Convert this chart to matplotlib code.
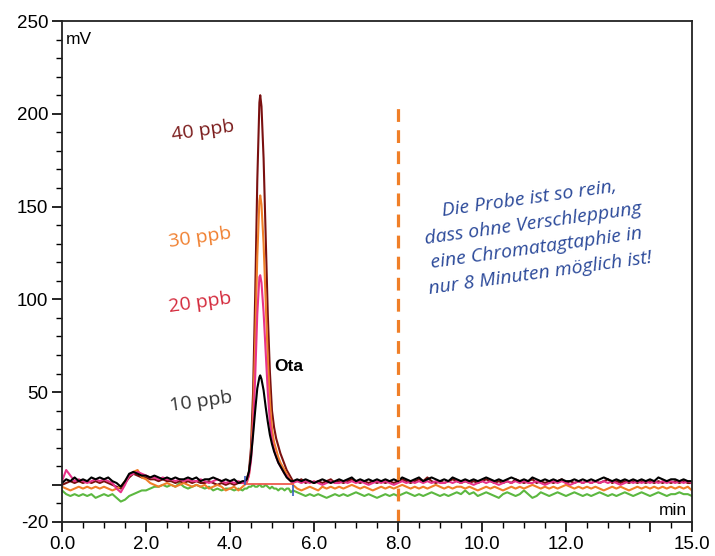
import numpy as np
import matplotlib
matplotlib.use("Agg")
import matplotlib.pyplot as plt
from matplotlib.ticker import MultipleLocator

# time grids (min)
t_pre = np.round(np.arange(0.0, 4.31, 0.1), 2)
t_peak = [4.35, 4.40, 4.45, 4.50, 4.55, 4.60, 4.65, 4.70, 4.72, 4.75, 4.80, 4.85, 4.90,
          4.95, 5.00, 5.05, 5.10, 5.15, 5.20, 5.25, 5.30, 5.35, 5.40, 5.45, 5.50]
t_post = np.round(np.arange(5.6, 15.01, 0.1), 2)

# signals (mV)
black_pre = [1, 3, 2, 4, 2, 3, 2, 4, 3, 4, 3, 4, 2, 1, -1, 2, 6, 7, 6, 5, 5, 4, 5, 4, 3, 4,
             3, 4, 3, 3, 4, 3, 4, 2, 3, 3, 4, 3, 2, 3, 2, 3, 1, 2]
black_peak = [2, 3, 7, 15, 27, 40, 52, 58, 59, 57, 51, 42, 34, 27, 22, 18, 15, 12, 10, 8,
              6, 4, 3, 2, 2]
black_post = [3, 2, 3, 2, 1, 2, 3, 2, 1, 2,
              3, 2, 3, 4, 2, 3, 2, 3, 2, 3,
              2, 3, 2, 3, 2, 4, 3, 2, 3, 4,
              2, 3, 4, 3, 2, 3, 2, 4, 3, 2,
              3, 2, 3, 2, 3, 4, 3, 2, 3, 2,
              3, 4, 3, 2, 3, 2, 4, 3, 2, 3,
              2, 3, 2, 3, 2, 2, 3, 2, 3, 2,
              3, 2, 3, 4, 3, 2, 3, 2, 3, 2,
              3, 2, 3, 2, 3, 2, 4, 3, 2, 3,
              3, 2, 3, 2, 2]

pink_pre = [2, 8, 5, 2, 3, 2, 1, 2, 3, 2, 3, 2, 1, -2, -4, 0, 5, 6, 7, 6, 5, 4, 4, 3, 4, 3,
            3, 2, 3, 2, 3, 2, 2, 3, 2, 1, 2, 3, 2, 1, 2, 1, 2, 1]
pink_peak = [1, 2, 5, 13, 30, 58, 92, 112, 113, 109, 93, 71, 50, 34, 24, 19, 15, 12, 10, 8,
             6, 5, 3, 2, 1]
pink_post = [2, 1, 2, 1, 2, 1, 0, 1, 2, 1,
             1, 2, 1, 2, 1, 2, 1, 0, 1, 2,
             1, 2, 1, 0, 1, 2, 1, 2, 1, 2,
             1, 2, 1, 2, 1, 1, 2, 1, 2, 1,
             2, 1, 0, 1, 2, 1, 2, 1, 0, 1,
             2, 1, 2, 1, 2, 1, 1, 2, 1, 0,
             1, 2, 1, 2, 1, 0, 1, 2, 1, 2,
             1, 2, 1, 2, 1, 2, 1, 0, 1, 2,
             1, 2, 1, 2, 1, 2, 1, 2, 1, 2,
             1, 2, 1, 2, 1]

red_pre = [0, 1, 2, 1, 2, 1, 2, 1, 2, 1, 2, 1, 0, -1, -2, 1, 4, 6, 5, 4, 4, 3, 3, 2, 3, 2,
           2, 1, 2, 1, 2, 1, 2, 1, 1, 2, 1, 0, 1, 0, 1, 0, 1, 1]
red_peak = [2, 3, 7, 20, 50, 102, 164, 206, 210, 204, 176, 134, 92, 61, 40, 31, 25, 21, 17,
            14, 11, 8, 6, 4, 2]
red_post = [2, 3, 1, 2, 1, 2, 1, 2, 3, 1,
            2, 1, 2, 3, 2, 1, 2, 1, 2, 1,
            2, 1, 2, 1, 2, 3, 2, 1, 2, 3,
            2, 4, 2, 1, 2, 1, 2, 3, 2, 1,
            2, 1, 2, 1, 2, 3, 2, 1, 2, 1,
            2, 1, 3, 2, 1, 2, 3, 1, 2, 1,
            2, 1, 2, 3, 1, 2, 1, 2, 1, 2,
            1, 2, 1, 2, 3, 1, 2, 1, 2, 1,
            2, 1, 2, 1, 2, 1, 2, 1, 2, 1,
            2, 1, 2, 1, 1]

orange_pre = [-1, -2, -3, -2, -1, -2, -1, -2, -1, -2, -1, -2, -3, -2, -1, 2, 5, 7, 8, 4, 3,
              1, 0, -1, 0, 1, 0, -1, 0, 1, 0, -1, 0, -1, 0, -2, -1, 0, -1, -3, -2, -1, -3, -1]
orange_peak = [0, 1, 5, 15, 38, 77, 123, 153, 156, 151, 130, 99, 68, 45, 30, 23, 19, 15, 12,
               10, 8, 6, 4, 2, 0]
orange_post = [-2, -3, -2, -1, -2, -3, -1, -2, -1, -2,
               -1, -2, -1, 0, -1, -2, -1, -2, -3, -2,
               -1, -2, -1, -2, -1, 0, -1, -2, -1, -2,
               -1, -2, -1, 0, -1, -2, -1, -2, -1, -1,
               -2, -1, -2, -3, -2, -1, -2, -1, -2, -3,
               -2, -1, -2, -1, -2, -1, 0, -1, -2, -1,
               -2, -1, -2, -1, 0, -1, -2, -1, -2, -1,
               -2, -1, -2, -3, -2, -1, -2, -1, -2, -3,
               -2, -1, -2, -1, -2, -1, -2, -1, -2, -1,
               -2, -1, -2, -1, -3]

green_pre = [-3, -5, -6, -5, -6, -5, -6, -5, -7, -6, -5, -6, -5, -7, -9, -8, -6, -5, -4, -3,
             -3, -2, -1, -1, 0, -1, 0, -1, 1, -1, -2, -1, 0, -1, -2, -1, -3, -2, -3, -2, -2,
             -3, -2, -3]
green_peak = [-2, -2, -1, -1, 0, -1, -1, 0, 0, -1, -1, 0, -1, -2, -1, -2, -2, -3, -2, -2,
              -3, -2, -2, -4, -3]
green_post = [-4, -5, -6, -5, -6, -5, -6, -7, -6, -5,
              -6, -5, -6, -5, -4, -5, -6, -5, -6, -7,
              -6, -5, -6, -5, -6, -5, -4, -5, -6, -5,
              -6, -5, -4, -5, -6, -5, -6, -5, -4, -5,
              -3, -5, -4, -6, -5, -4, -5, -6, -7, -5,
              -4, -5, -6, -5, -3, -5, -7, -6, -4, -5,
              -6, -5, -4, -5, -6, -5, -4, -5, -6, -5,
              -6, -5, -4, -5, -6, -5, -6, -5, -4, -5,
              -6, -5, -4, -5, -6, -5, -4, -5, -6, -5,
              -5, -4, -5, -5, -6]

# integration baseline and markers
base_t = [4.35, 5.50]
base_v = [0.5, 0.5]
mark_t = [4.35, 5.50]
mark_lo = [0, -6]
mark_hi = [5, 0]

labels = ["40 ppb", "30 ppb", "20 ppb", "10 ppb"]
label_pos = [(3.36, 191), (3.29, 133), (3.29, 98), (3.31, 45)]
label_colors = ["#7a1a1a", "#f08030", "#d42a3c", "#333333"]

note = ("Die Probe ist so rein,\ndass ohne Verschleppung\n"
        "eine Chromatagtaphie in\nnur 8 Minuten möglich ist!")

xticks = [0, 2, 4, 6, 8, 10, 12, 14, 15]
xticklabels = ["0.0", "2.0", "4.0", "6.0", "8.0", "10.0", "12.0", "", "15.0"]
yticks = [-20, 0, 50, 100, 150, 200, 250]
yticklabels = ["-20", "", "50", "100", "150", "200", "250"]


def full(pre, peak, post):
    return np.concatenate([pre, peak, post])


def main():
    t = np.concatenate([t_pre, t_peak, t_post])
    fig = plt.figure(figsize=(7.15, 5.56), dpi=100)
    ax = fig.add_axes([0.0867, 0.0612, 0.8811, 0.901])

    series = [(green_pre, green_peak, green_post, "#5cb840"),
              (red_pre, red_peak, red_post, "#7a1010"),
              (orange_pre, orange_peak, orange_post, "#f07f28"),
              (pink_pre, pink_peak, pink_post, "#e8338a"),
              (black_pre, black_peak, black_post, "#000000")]
    for pre, peak, post, c in series:
        ax.plot(t, full(pre, peak, post), color=c, lw=1.5)

    ax.plot(base_t, base_v, color="#ee5a4e", lw=1.3)
    ax.vlines(mark_t, mark_lo, mark_hi, color="#3a5fc0", lw=1.2)
    ax.vlines([8.0], -20, 204, color="#f07f28", lw=2.3, linestyles=(0, (4, 2.6)))

    for s, (x, y), c in zip(labels, label_pos, label_colors):
        ax.text(x, y, s, color=c, fontsize=14, family="Open Sans",
                ha="center", va="center", rotation=8)
    ax.text(5.05, 64, "Ota", fontsize=12.5, fontweight="bold", family="Liberation Sans",
            ha="left", va="center")
    ax.text(11.26, 134, note, color="#2c4a9a", fontsize=14, family="Open Sans",
            style="italic", ha="center", va="center", rotation=8,
            multialignment="center", linespacing=1.5)

    ax.text(0.1, 240, "mV", fontsize=12.5, family="Liberation Sans", ha="left", va="center")
    ax.text(14.88, -14, "min", fontsize=12.5, family="Liberation Sans", ha="right",
            va="center")

    ax.set_xlim(0, 15)
    ax.set_ylim(-20, 250)
    ax.set_xticks(xticks)
    ax.set_xticklabels(xticklabels)
    ax.set_yticks(yticks)
    ax.set_yticklabels(yticklabels)
    ax.xaxis.set_minor_locator(MultipleLocator(0.5))
    ax.yaxis.set_minor_locator(MultipleLocator(10))
    ax.tick_params(which="major", direction="out", length=7, width=1.2,
                   labelsize=13.5, pad=3)
    ax.tick_params(which="minor", direction="out", length=4, width=1.0)
    for lab in ax.get_xticklabels() + ax.get_yticklabels():
        lab.set_family("Liberation Sans")
    for sp in ax.spines.values():
        sp.set_linewidth(1.3)
        sp.set_color("#222222")

    fig.savefig("out.png", dpi=100)


if __name__ == '__main__':
    main()
